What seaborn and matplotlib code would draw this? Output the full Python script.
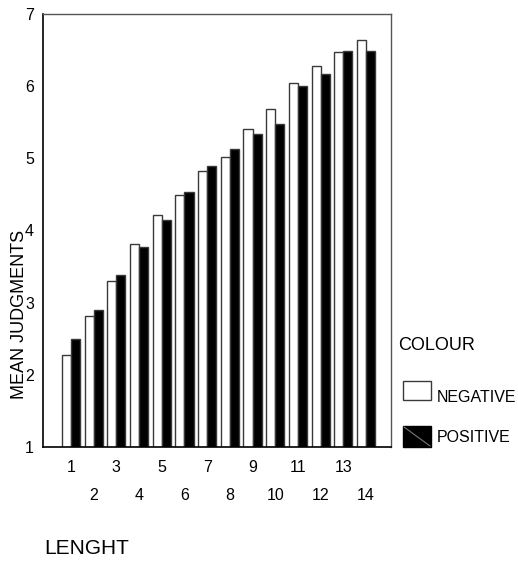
import pandas as pd
import matplotlib.pyplot as plt
import seaborn as sns
from matplotlib.patches import Rectangle
from matplotlib.lines import Line2D

# Mean judgments per length
lengths = list(range(1, 15))
negative = [2.28, 2.82, 3.30, 3.81, 4.21, 4.49, 4.83, 5.02, 5.40, 5.68, 6.04, 6.28, 6.47, 6.64]
positive = [2.49, 2.90, 3.39, 3.77, 4.15, 4.53, 4.89, 5.13, 5.34, 5.47, 6.00, 6.17, 6.49, 6.49]
colours = ["NEGATIVE", "POSITIVE"]

df = pd.DataFrame({
    "LENGHT": lengths * 2,
    "MEAN JUDGMENTS": negative + positive,
    "COLOUR": [colours[0]] * len(lengths) + [colours[1]] * len(lengths),
})

sns.set_style("white")
plt.rcParams['font.family'] = ['Liberation Sans', 'DejaVu Sans']
plt.rcParams.update({'text.color': 'black', 'axes.labelcolor': 'black',
                     'xtick.color': 'black', 'ytick.color': 'black'})

fig = plt.figure(figsize=(5.18, 5.61), dpi=100)
ax = fig.add_axes([43 / 518, 1 - 447 / 561, 348 / 518, 433 / 561])

palette = {"NEGATIVE": "white", "POSITIVE": "black"}
sns.barplot(data=df, x="LENGHT", y="MEAN JUDGMENTS", hue="COLOUR",
            hue_order=colours, palette=palette, edgecolor="#3a3a3a",
            linewidth=1, legend=False, ax=ax, width=0.8)

ax.set_ylim(1, 7)
ax.set_xlim(-1.23, 14.1)
ax.set_yticks(range(1, 8))

# staggered x labels: odd on first row, even on second row
odd_pos = [i for i in range(len(lengths)) if lengths[i] % 2 == 1]
even_pos = [i for i in range(len(lengths)) if lengths[i] % 2 == 0]
ax.set_xticks(odd_pos, [str(lengths[i]) for i in odd_pos])
ax.set_xticks(even_pos, [str(lengths[i]) for i in even_pos], minor=True)
ax.tick_params(axis='x', which='major', direction='inout', length=3, width=2.5, pad=8, labelsize=11.5)
ax.tick_params(axis='x', which='minor', direction='inout', length=3, width=2.5, pad=28, labelsize=11.5)
ax.tick_params(axis='y', direction='inout', length=3, width=2.5, pad=5, labelsize=11.5)

for side in ['left', 'bottom']:
    ax.spines[side].set_color('black')
    ax.spines[side].set_linewidth(1.2)
for side in ['top', 'right']:
    ax.spines[side].set_color('#555555')
    ax.spines[side].set_linewidth(1.0)

ax.set_xlabel("")
# the label overlaps the tick numbers in the reference as well
ax.set_ylabel("MEAN JUDGMENTS", fontsize=13)
ax.yaxis.set_label_coords(-0.043, 0.305)

fig.text(44 / 518, 1 - 548 / 561, "LENGHT", fontsize=15, va='center', ha='left')

# legend drawn by hand to match the layout
fig.text(398 / 518, 1 - 345 / 561, "COLOUR", fontsize=13, va='center', ha='left')
fig.add_artist(Rectangle((403 / 518, 1 - 400 / 561), 28 / 518, 19 / 561,
                         transform=fig.transFigure, facecolor='white',
                         edgecolor='#3a3a3a', linewidth=1))
fig.text(437 / 518, 1 - 397 / 561, "NEGATIVE", fontsize=11.5, va='center', ha='left')
fig.add_artist(Rectangle((403 / 518, 1 - 447 / 561), 28 / 518, 21 / 561,
                         transform=fig.transFigure, facecolor='black',
                         edgecolor='black', linewidth=1))
fig.add_artist(Line2D([404 / 518, 430 / 518], [1 - 427 / 561, 1 - 446 / 561],
                      transform=fig.transFigure, color='#777777', linewidth=0.8))
fig.text(437 / 518, 1 - 438 / 561, "POSITIVE", fontsize=11.5, va='center', ha='left')

fig.savefig("out.png", dpi=100)
